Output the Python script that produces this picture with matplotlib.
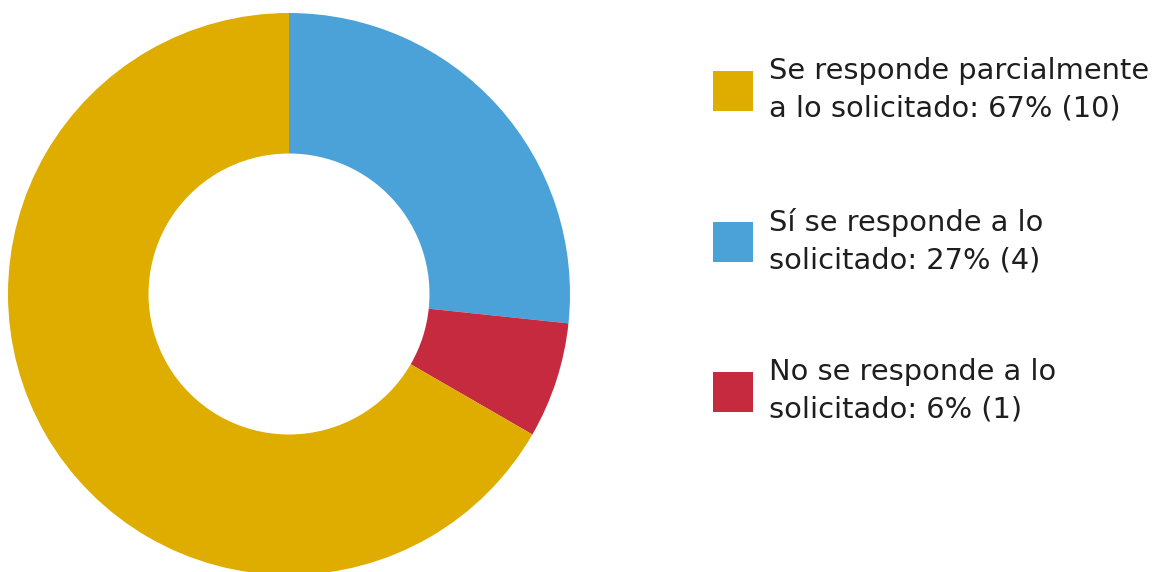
import matplotlib
matplotlib.use("Agg")
import matplotlib.pyplot as plt
from matplotlib.patches import Rectangle

# data
categorias = ['Sí se responde a lo solicitado', 'No se responde a lo solicitado',
              'Se responde parcialmente a lo solicitado']
valores = [4, 1, 10]
colores = ['#4AA2D8', '#C52A3F', '#DFAC00']
etiquetas = ['Se responde parcialmente\na lo solicitado: 67% (10)',
             'Sí se responde a lo\nsolicitado: 27% (4)',
             'No se responde a lo\nsolicitado: 6% (1)']
colores_leyenda = ['#DFAC00', '#4AA2D8', '#C52A3F']

W, H = 1165, 572
fig = plt.figure(figsize=(W / 100, H / 100), dpi=100)

# donut
cx, cy, r = 289, 294, 281
ax = fig.add_axes([(cx - r) / W, (H - cy - r) / H, 2 * r / W, 2 * r / H])
ax.pie(valores, colors=colores, startangle=90, counterclock=False,
       wedgeprops=dict(width=0.5, linewidth=0))
ax.set_xlim(-1, 1); ax.set_ylim(-1, 1)
ax.set_aspect('equal')
ax.axis('off')

# legend, drawn by hand
y_centros = [91, 242, 392]
for lab, col, yc in zip(etiquetas, colores_leyenda, y_centros):
    fig.patches.append(Rectangle((713 / W, (H - yc - 20) / H), 40 / W, 40 / H,
                                 facecolor=col, edgecolor='none',
                                 transform=fig.transFigure, figure=fig))
    fig.text(769 / W, (H - yc + 1) / H, lab, ha='left', va='center',
             fontsize=20.8, family='DejaVu Sans', color='#1e1e1e', linespacing=1.45)

fig.savefig('out.png', dpi=100)
